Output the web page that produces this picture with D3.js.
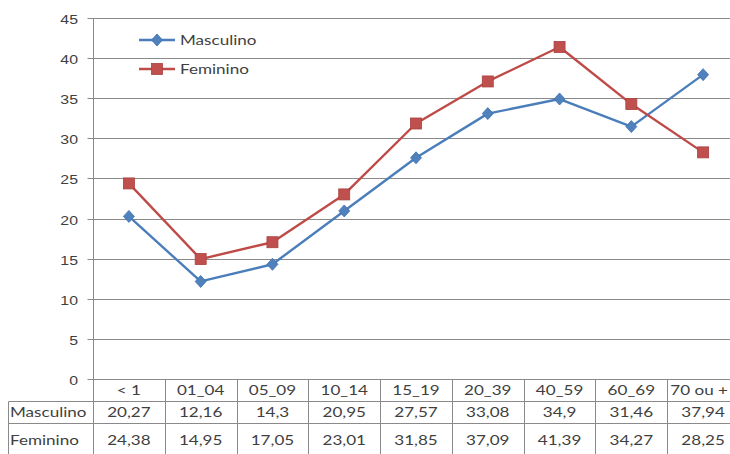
<!DOCTYPE html>
<html>
<head>
<meta charset="utf-8">
<script src="https://cdn.jsdelivr.net/npm/d3@7"></script>
<style>
  html, body { margin: 0; padding: 0; background: #fff; }
  svg { display: block; font-family: Lato, "Noto Sans", sans-serif; }
</style>
</head>
<body>
<svg id="chart" width="730" height="454"></svg>
<script>
// Age groups and rates by sex
const categories = ["< 1", "01_04", "05_09", "10_14", "15_19", "20_39", "40_59", "60_69", "70 ou +"];
const masculino = [20.27, 12.16, 14.3, 20.95, 27.57, 33.08, 34.9, 31.46, 37.94];
const feminino  = [24.38, 14.95, 17.05, 23.01, 31.85, 37.09, 41.39, 34.27, 28.25];
const yTicks = [0, 5, 10, 15, 20, 25, 30, 35, 40, 45];

const series = [
  { name: "Masculino", values: masculino, line: "#4A7EBB", fill: "#4F81BD", stroke: "#3E6FAD", marker: "diamond" },
  { name: "Feminino",  values: feminino,  line: "#BE4B48", fill: "#C0504D", stroke: "#A8403D", marker: "square" }
];

const svg = d3.select("#chart");
const W = 730, H = 454;
const plotLeft = 93, plotRight = 739, plotTop = 18, plotBottom = 379;
const sx = 1.22;             // horizontal text stretch
const textColor = "#3f3f3f";
const gridColor = "#8a8a8a";
const fontSize = 14;
const fmt = v => String(v).replace(".", ",");

const x = d3.scaleBand().domain(categories).range([plotLeft, plotRight]).paddingInner(0).paddingOuter(0);
const y = d3.scaleLinear().domain([0, 45]).range([plotBottom, plotTop]);
const cx = c => x(c) + x.bandwidth() / 2;

// stretched text helper; centred labels are kept inside the drawing area
function label(g, tx, ty, str, size, anchor) {
  const t = g.append("text")
    .attr("text-anchor", anchor)
    .attr("font-size", size)
    .attr("fill", textColor)
    .text(str);
  if (anchor === "middle") {
    const half = t.node().getComputedTextLength() * sx / 2;
    tx = Math.min(tx, W - 2 - half);
  }
  t.attr("transform", `translate(${tx},${ty}) scale(${sx},1)`);
  return t;
}

// gridlines
const grid = svg.append("g");
grid.selectAll("line").data(yTicks.filter(t => t > 0)).join("line")
  .attr("x1", plotLeft).attr("x2", plotRight)
  .attr("y1", d => Math.round(y(d)) + 0.5).attr("y2", d => Math.round(y(d)) + 0.5)
  .attr("stroke", gridColor).attr("stroke-width", 1);

// y axis via d3.axisLeft
const yAxis = svg.append("g")
  .attr("transform", `translate(${plotLeft + 0.5},0)`)
  .call(d3.axisLeft(y).tickValues(yTicks).tickSize(6).tickFormat(""));
yAxis.select(".domain").remove();
yAxis.selectAll(".tick line").attr("stroke", gridColor);
yAxis.selectAll(".tick").each(function(d) {
  label(d3.select(this), -15.5, 5, String(d), 13, "end");
});
yAxis.selectAll(".tick").attr("transform", d => `translate(0,${Math.round(y(d)) + 0.5})`);

// table grid
const tbl = svg.append("g").attr("stroke", gridColor).attr("stroke-width", 1).attr("fill", "none");
const rowA = 401.5, rowB = 423.5, tableLeft = 8.5;
tbl.append("line").attr("x1", plotLeft).attr("x2", plotRight).attr("y1", plotBottom + 0.5).attr("y2", plotBottom + 0.5);
tbl.append("line").attr("x1", tableLeft).attr("x2", plotRight).attr("y1", rowA).attr("y2", rowA);
tbl.append("line").attr("x1", tableLeft).attr("x2", plotRight).attr("y1", rowB).attr("y2", rowB);
tbl.append("line").attr("x1", tableLeft).attr("x2", tableLeft).attr("y1", rowA).attr("y2", H);
// plot axis line continuing through the table
tbl.append("line").attr("x1", plotLeft + 0.5).attr("x2", plotLeft + 0.5).attr("y1", plotTop).attr("y2", H);
tbl.selectAll("line.col").data(categories.slice(1)).join("line").attr("class", "col")
  .attr("x1", d => Math.round(x(d)) + 0.5).attr("x2", d => Math.round(x(d)) + 0.5)
  .attr("y1", plotBottom).attr("y2", H);

// table text
const tt = svg.append("g");
categories.forEach(c => label(tt, cx(c), 395, c, fontSize, "middle"));
label(tt, 10, 417, "Masculino", fontSize, "start");
label(tt, 10, 445, "Feminino", fontSize, "start");
categories.forEach((c, i) => {
  label(tt, cx(c), 417, fmt(masculino[i]), fontSize, "middle");
  label(tt, cx(c), 445, fmt(feminino[i]), fontSize, "middle");
});

// markers
function drawMarker(g, s, px, py) {
  if (s.marker === "square") {
    g.append("rect").attr("x", px - 5.5).attr("y", py - 5.5).attr("width", 11).attr("height", 11)
      .attr("fill", s.fill).attr("stroke", s.stroke).attr("stroke-width", 0.8);
  } else {
    g.append("path").attr("d", "M0,-6L5.5,0L0,6L-5.5,0Z").attr("transform", `translate(${px},${py})`)
      .attr("fill", s.fill).attr("stroke", s.stroke).attr("stroke-width", 0.8);
  }
}

// lines
const line = d3.line().x((d, i) => cx(categories[i])).y(d => y(d));
series.forEach(s => {
  const g = svg.append("g");
  g.append("path").datum(s.values).attr("d", line)
    .attr("fill", "none").attr("stroke", s.line).attr("stroke-width", 2.4).attr("stroke-linejoin", "round");
  s.values.forEach((v, i) => drawMarker(g, s, cx(categories[i]), y(v)));
});

// legend
const lg = svg.append("g");
series.forEach((s, i) => {
  const ly = 40 + i * 29;
  lg.append("line").attr("x1", 139).attr("x2", 175).attr("y1", ly).attr("y2", ly)
    .attr("stroke", s.line).attr("stroke-width", 2.4);
  drawMarker(lg, s, 157, ly);
  label(lg, 180, ly + 5, s.name, fontSize, "start");
});
</script>
</body>
</html>
